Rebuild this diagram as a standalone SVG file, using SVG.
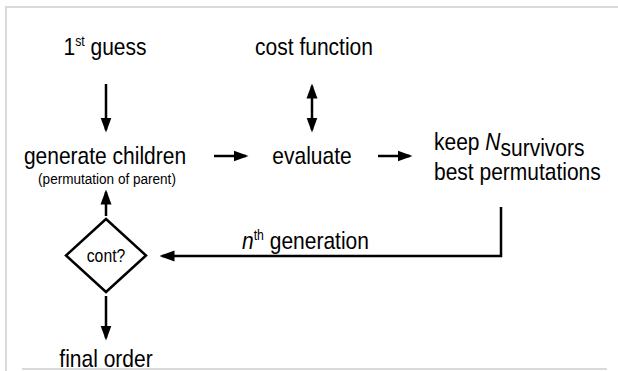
<svg xmlns="http://www.w3.org/2000/svg" width="618" height="371" viewBox="0 0 618 371">
<style>
text{font-family:"Liberation Sans",Arial,sans-serif;fill:#000;}
.t{font-size:24px;}
.s{font-size:15.5px;}
.m{text-anchor:middle;}
.c{stroke:#000;stroke-width:2.5;fill:none;}
.f{stroke:#d9d9d9;stroke-width:2;fill:none;}
</style>
<defs>
<marker id="ah" markerWidth="6" markerHeight="5" refX="5" refY="2.5" orient="auto-start-reverse" markerUnits="strokeWidth"><path d="M0,0.3 L6,2.5 L0,4.7 Z" fill="#000"/></marker>
</defs>
<g id="frame">
<path class="f" d="M5,7 H618 M6,7 V371"/>
<path class="f" d="M22,369 H607" stroke="#c8c8c8"/>
</g>
<g id="first-guess" transform="translate(105,55) scale(0.875,1)"><text class="t m">1<tspan font-size="14" dy="-9">st</tspan><tspan dy="9"> guess</tspan></text></g>
<g id="cost-function" transform="translate(314,55) scale(0.875,1)"><text class="t m">cost function</text></g>
<g id="generate-children"><g transform="translate(105,164) scale(0.875,1)"><text class="t m">generate children</text></g><g transform="translate(107,184) scale(0.875,1)"><text class="s m">(permutation of parent)</text></g></g>
<g id="evaluate" transform="translate(312,164) scale(0.875,1)"><text class="t m">evaluate</text></g>
<g id="keep"><g transform="translate(434,150) scale(0.875,1)"><text class="t">keep <tspan font-style="italic">N</tspan><tspan dy="6">survivors</tspan></text></g><g transform="translate(434,180) scale(0.875,1)"><text class="t">best permutations</text></g></g>
<g id="cont"><path d="M106,219 L146,255.5 L106,292 L66,255.5 Z" fill="#fff" stroke="#000" stroke-width="2.5"/><g transform="translate(106,262) scale(0.875,1)"><text class="m" font-size="18">cont?</text></g></g>
<g id="final-order" transform="translate(106,367) scale(0.875,1)"><text class="t m">final order</text></g>
<g id="connectors">
<path class="c" d="M106,84 V130" marker-end="url(#ah)"/>
<path class="c" d="M312,86 V130" marker-start="url(#ah)" marker-end="url(#ah)"/>
<path class="c" d="M214,156 H246" marker-end="url(#ah)"/>
<path class="c" d="M378,156 H410" marker-end="url(#ah)"/>
<path class="c" d="M501,207 V256 H162" marker-end="url(#ah)"/>
<path class="c" d="M106,216 V192" marker-end="url(#ah)"/>
<path class="c" d="M106,296 V338" marker-end="url(#ah)"/>
<g transform="translate(242,249) scale(0.875,1)"><text class="t"><tspan font-style="italic">n</tspan><tspan font-size="14" dy="-9">th</tspan><tspan dy="9"> generation</tspan></text></g>
</g>
</svg>
